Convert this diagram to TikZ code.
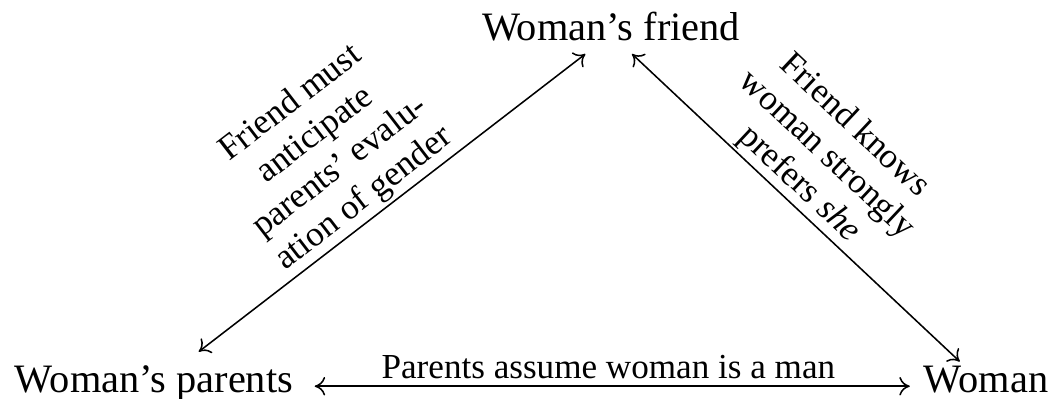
\documentclass[tikz,border=0pt]{standalone}
\usepackage{fontspec}
\setmainfont{Liberation Serif}
\usetikzlibrary{arrows.meta}
\begin{document}
\begin{tikzpicture}[x=0.3246pt,y=-0.3246pt,
  >={Computer Modern Rightarrow[length=3.4pt,width=6pt]},
  basenode/.style={font=\fontsize{13.1}{15.7}\selectfont,text height=0.72em,text depth=0.28em},
  link/.style={<->,line width=0.5pt},
  edgelabel/.style={font=\fontsize{11.4}{13}\selectfont,align=center}]
\useasboundingbox (0,0) rectangle (1057,399);
\node[basenode,anchor=base,inner ysep=1.2pt] (friend) at (611,41) {Woman's friend};
\node[basenode,anchor=base,inner ysep=6pt] (parents) at (154,393) {Woman's parents};
\node[basenode,anchor=base,inner ysep=2.8pt] (woman) at (986,393) {Woman};
\draw[link] (friend) -- node[edgelabel,pos=0.54,sloped,above=0pt,inner sep=1pt] {Friend must\\anticipate\\parents' evalu-\\ation of gender} (parents);
\draw[link] (friend) -- node[edgelabel,pos=0.47,sloped,above=0pt,inner sep=0.8pt] {Friend knows\\woman strongly\\prefers \emph{she}} (woman);
\draw[link,shorten <=3.5pt,shorten >=1pt] (parents) -- node[edgelabel,midway,above,inner sep=2pt] {Parents assume woman is a man} (woman);
\end{tikzpicture}
\end{document}
